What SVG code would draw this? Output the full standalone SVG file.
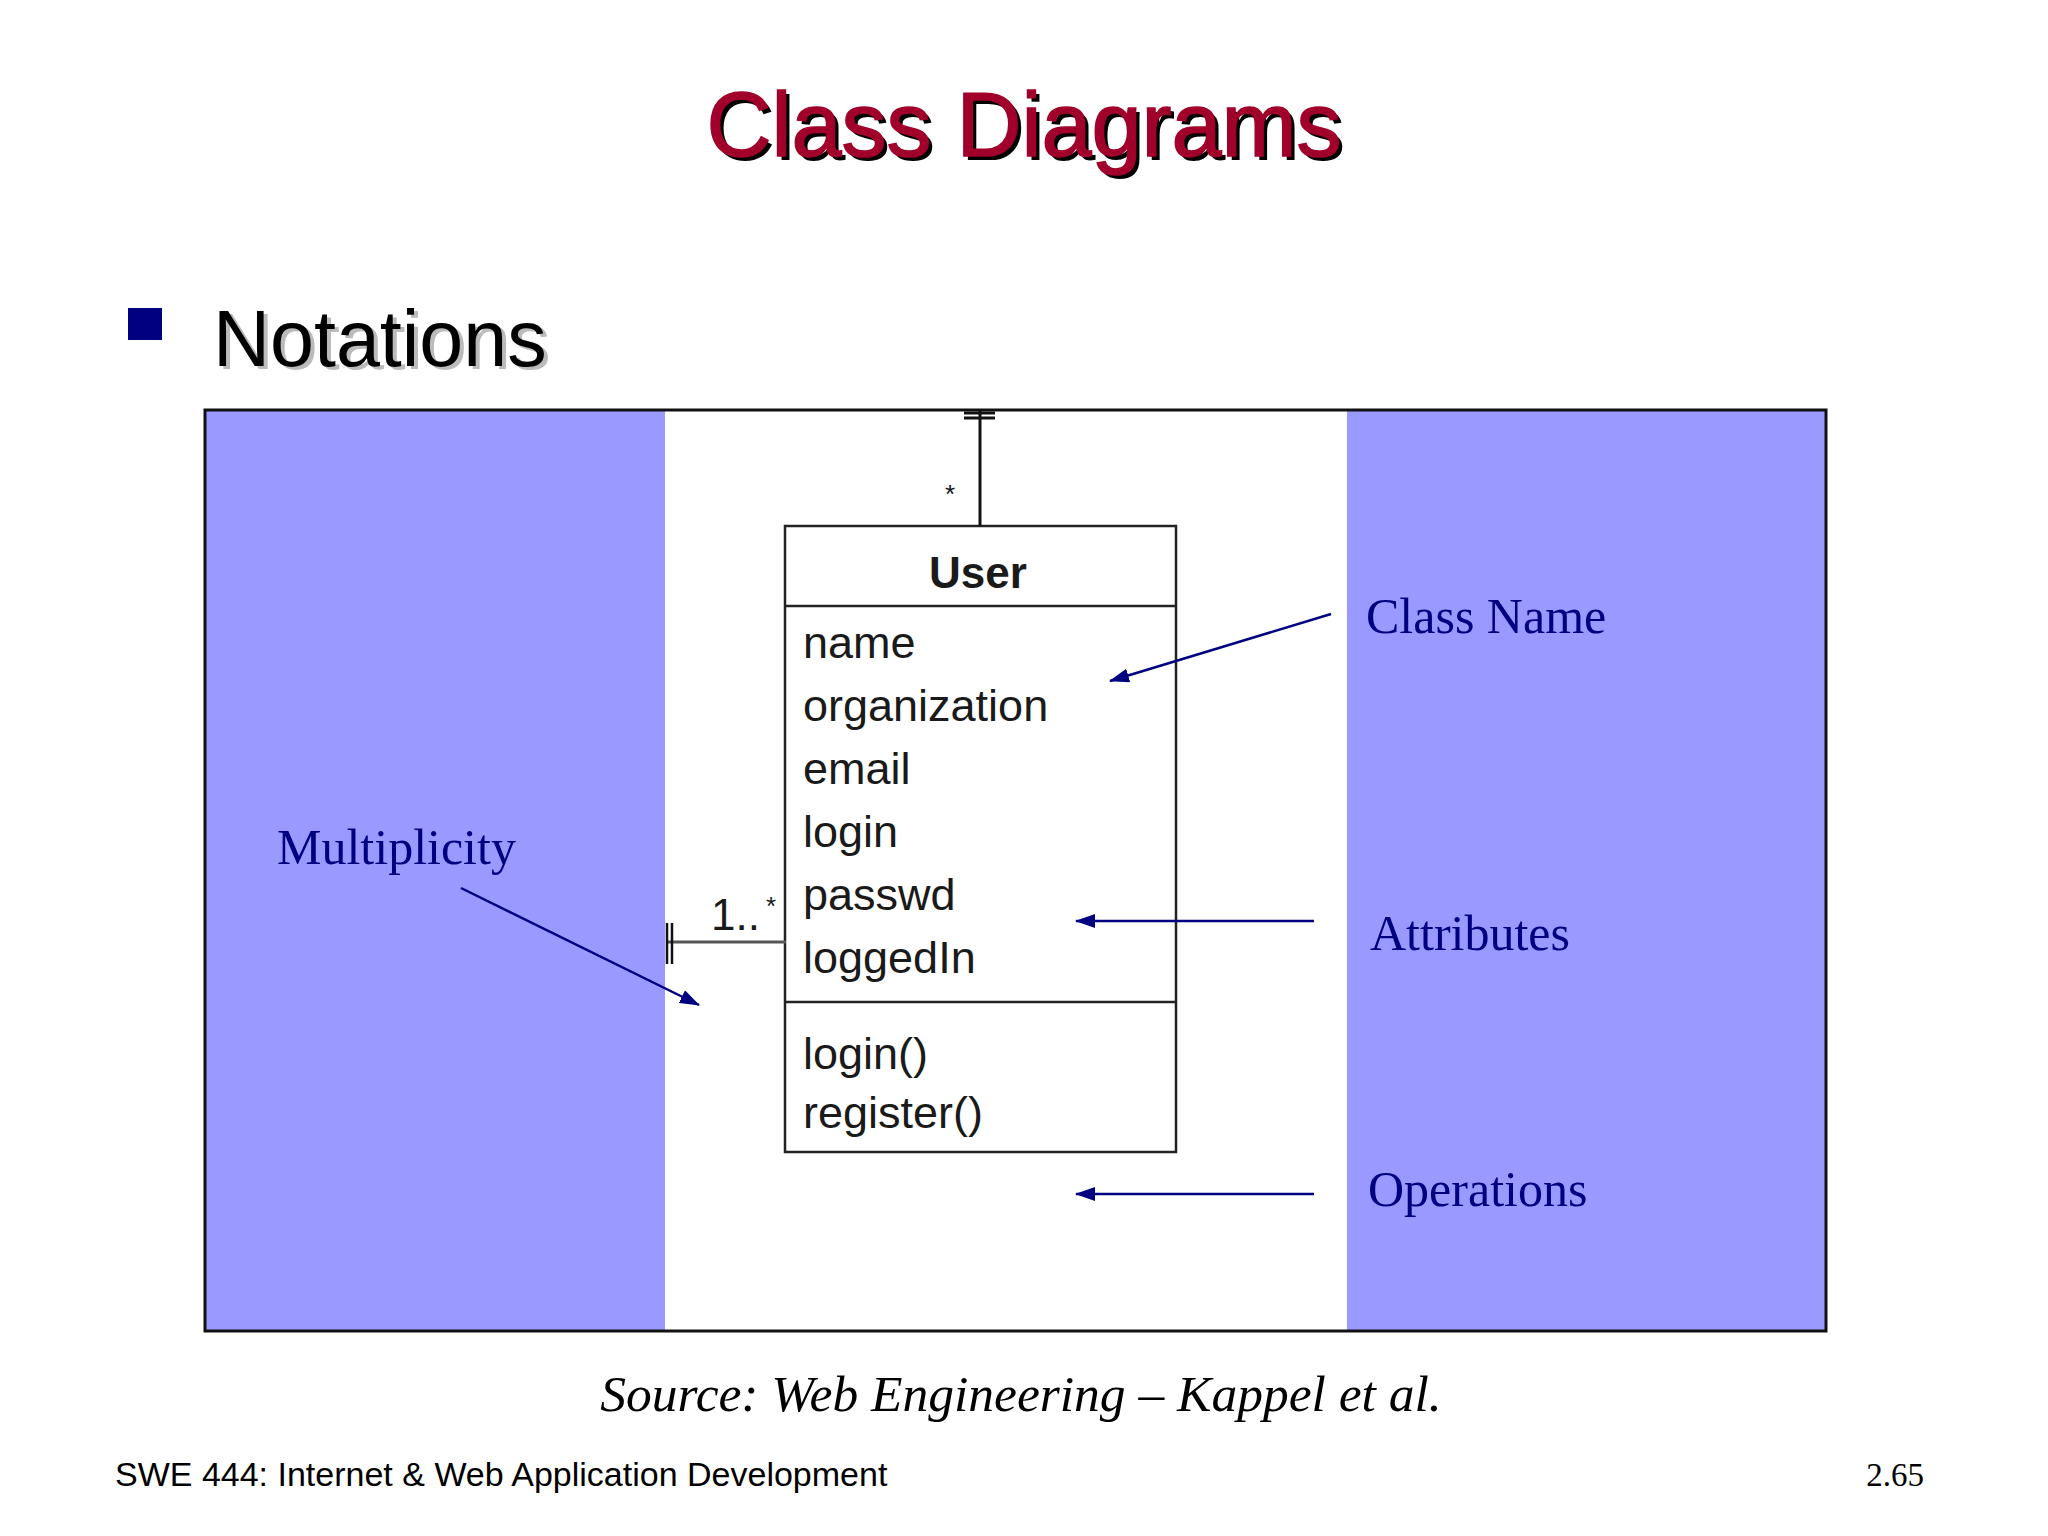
<svg xmlns="http://www.w3.org/2000/svg" width="2048" height="1536" viewBox="0 0 2048 1536">
<defs>
<style>
.sans{font-family:"Liberation Sans",Arial,sans-serif}
.serif{font-family:"Liberation Serif","Times New Roman",serif}
.lbl{font-family:"Liberation Serif","Times New Roman",serif;font-size:50px;fill:#000080}
.attr{font-family:"Liberation Sans",Arial,sans-serif;font-size:45px;fill:#1a1a1a}
.uml{stroke:#222;stroke-width:2.5;fill:none}
.arr{stroke:#000080;stroke-width:2.5;fill:none;marker-end:url(#ah)}
</style>
<marker id="ah" viewBox="0 0 20 14" refX="19" refY="7" markerWidth="20" markerHeight="14" markerUnits="userSpaceOnUse" orient="auto">
<path d="M0,0 L20,7 L0,14 z" fill="#000080"/>
</marker>
</defs>
<rect width="2048" height="1536" fill="#fff"/>
<g id="title">
<text x="1028" y="160" class="sans" font-size="90" text-anchor="middle" fill="#000">Class Diagrams</text>
<text x="1024" y="156" class="sans" font-size="90" text-anchor="middle" fill="#A0002A" stroke="#A0002A" stroke-width="1.5">Class Diagrams</text>
</g>
<g id="bullet">
<rect x="128" y="308" width="34" height="32" fill="#000080"/>
<text x="217" y="369" class="sans" font-size="79" fill="#bbb">Notations</text>
<text x="213" y="366" class="sans" font-size="79" fill="#000">Notations</text>
</g>
<g id="frame">
<rect x="205" y="410" width="460" height="921" fill="#9999FF"/>
<rect x="665" y="410" width="682" height="921" fill="#fff"/>
<rect x="1347" y="410" width="479" height="921" fill="#9999FF"/>
<rect x="205" y="410" width="1621" height="921" fill="none" stroke="#111" stroke-width="3"/>
</g>
<g id="user-class">
<rect x="785" y="526" width="391" height="626" class="uml"/>
<line x1="785" y1="606" x2="1176" y2="606" class="uml"/>
<line x1="785" y1="1002" x2="1176" y2="1002" class="uml"/>
<text x="978" y="588" class="sans" font-size="44" font-weight="bold" text-anchor="middle" fill="#1a1a1a">User</text>
<text x="803" y="658" class="attr">name</text>
<text x="803" y="721" class="attr">organization</text>
<text x="803" y="784" class="attr">email</text>
<text x="803" y="847" class="attr">login</text>
<text x="803" y="910" class="attr">passwd</text>
<text x="803" y="973" class="attr">loggedIn</text>
<text x="803" y="1069" class="attr">login()</text>
<text x="803" y="1128" class="attr">register()</text>
</g>
<g id="assoc-top">
<line x1="980" y1="410" x2="980" y2="526" stroke="#111" stroke-width="3"/>
<line x1="964" y1="413" x2="995" y2="413" stroke="#111" stroke-width="3"/>
<line x1="964" y1="418" x2="995" y2="418" stroke="#111" stroke-width="3"/>
<text x="950" y="503" class="sans" font-size="26" text-anchor="middle" fill="#111">*</text>
</g>
<g id="assoc-left">
<line x1="666" y1="942" x2="786" y2="942" stroke="#555" stroke-width="3"/>
<line x1="667" y1="923" x2="667" y2="964" stroke="#111" stroke-width="2.5"/>
<line x1="672" y1="923" x2="672" y2="964" stroke="#111" stroke-width="2.5"/>
<text x="711" y="930" class="sans" font-size="44" fill="#1a1a1a">1..</text>
<text x="771" y="915" class="sans" font-size="26" text-anchor="middle" fill="#1a1a1a">*</text>
</g>
<g id="labels">
<text x="1366" y="633" class="lbl">Class Name</text>
<text x="1370" y="950" class="lbl">Attributes</text>
<text x="1368" y="1206" class="lbl">Operations</text>
<text x="277" y="864" class="lbl" font-size="49">Multiplicity</text>
</g>
<g id="connectors">
<line x1="1331" y1="614" x2="1110" y2="681" class="arr"/>
<line x1="1314" y1="921" x2="1076" y2="921" class="arr"/>
<line x1="1314" y1="1194" x2="1076" y2="1194" class="arr"/>
<line x1="461" y1="888" x2="699" y2="1005" class="arr"/>
</g>
<g id="footer">
<text x="1021" y="1411" class="serif" font-size="51.5" font-style="italic" text-anchor="middle" fill="#000">Source: Web Engineering – Kappel et al.</text>
<text x="115" y="1486" class="sans" font-size="34" fill="#000">SWE 444: Internet &amp; Web Application Development</text>
<text x="1924" y="1486" class="serif" font-size="33" text-anchor="end" fill="#000">2.65</text>
</g>
</svg>
